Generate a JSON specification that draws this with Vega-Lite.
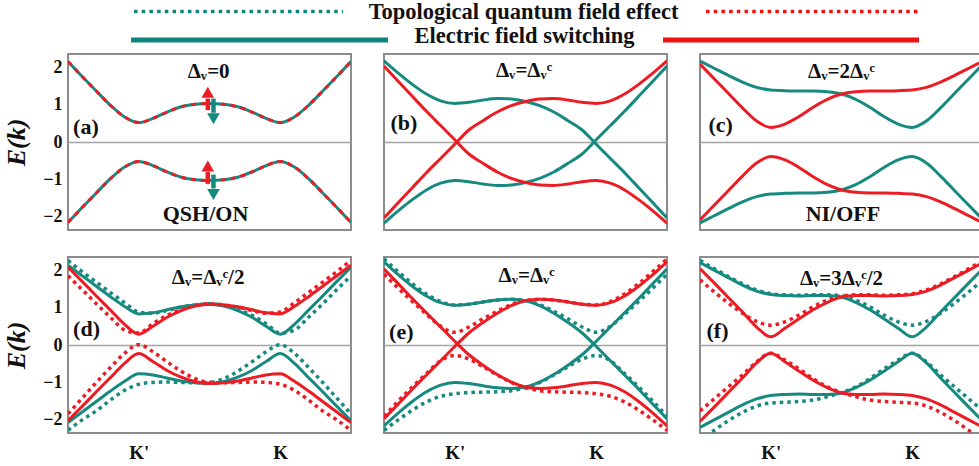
{
 "$schema": "https://vega.github.io/schema/vega-lite/v6.json",
 "padding": {"left": 3, "top": 0, "right": 0, "bottom": 0},
 "background": "white",
 "spacing": 3,
 "config": {"view": {"stroke": "#8c8c8c", "strokeWidth": 2}, "font": "Liberation Serif"},
 "resolve": {"scale": {"x": "independent", "y": "independent", "color": "independent"}},
 "vconcat": [
  {
   "width": 912, "height": 50,
   "view": {"stroke": null},
   "data": {"values": [
    {"method": "TQFE", "spin": "down", "lx": 7.24, "lx2": 30.15, "ly": 2.3},
    {"method": "TQFE", "spin": "up", "lx": 69.96, "lx2": 93.31, "ly": 2.3},
    {"method": "EFS", "spin": "down", "lx": 6.91, "lx2": 35.09, "ly": 8.0},
    {"method": "EFS", "spin": "up", "lx": 65.24, "lx2": 93.31, "ly": 8.0},
    {"label": "Topological quantum field effect", "lx": 49.95, "ly": 3.7},
    {"label": "Electric field switching", "lx": 50.05, "ly": 8.5}
   ]},
   "encoding": {
    "x": {"field": "lx", "type": "quantitative", "scale": {"domain": [0, 100], "nice": false}, "axis": null},
    "y": {"field": "ly", "type": "quantitative", "scale": {"domain": [0, 10], "nice": false, "reverse": true}, "axis": null}
   },
   "layer": [
    {"transform": [{"filter": "datum.method === 'TQFE'"}],
     "mark": {"type": "rule", "strokeWidth": 3.5, "strokeDash": [3.5, 4.2]},
     "encoding": {"x2": {"field": "lx2"}, "color": {"field": "spin", "type": "nominal", "scale": {"domain": ["up", "down"], "range": ["#ee1111", "#0f857d"]}, "legend": null}}},
    {"transform": [{"filter": "datum.method === 'EFS'"}],
     "mark": {"type": "rule", "strokeWidth": 5},
     "encoding": {"x2": {"field": "lx2"}, "color": {"field": "spin", "type": "nominal", "scale": {"domain": ["up", "down"], "range": ["#ee1111", "#0f857d"]}, "legend": null}}},
    {"transform": [{"filter": "isValid(datum.label)"}],
     "mark": {"type": "text", "font": "Liberation Serif", "fontWeight": "bold", "fontSize": 22.5, "color": "#111111", "align": "center", "baseline": "alphabetic"},
     "encoding": {"text": {"field": "label"}}}
   ]
  },
  {
   "data": {"values": [
    {"r":1,"c":1,"x":0,"tc":2.15,"tv":-2.15,"rca":2.15,"rva":-2.15},
    {"r":1,"c":1,"x":0.05,"tc":1.75,"tv":-1.75,"rca":1.75,"rva":-1.75},
    {"r":1,"c":1,"x":0.1,"tc":1.36,"tv":-1.36,"rca":1.36,"rva":-1.36},
    {"r":1,"c":1,"x":0.15,"tc":0.98,"tv":-0.98,"rca":0.98,"rva":-0.98},
    {"r":1,"c":1,"x":0.2,"tc":0.67,"tv":-0.67,"rca":0.67,"rva":-0.67},
    {"r":1,"c":1,"x":0.25,"tc":0.52,"tv":-0.52,"rca":0.52,"rva":-0.52},
    {"r":1,"c":1,"x":0.3,"tc":0.63,"tv":-0.63,"rca":0.63,"rva":-0.63},
    {"r":1,"c":1,"x":0.35,"tc":0.8,"tv":-0.8,"rca":0.8,"rva":-0.8},
    {"r":1,"c":1,"x":0.4,"tc":0.94,"tv":-0.94,"rca":0.94,"rva":-0.94},
    {"r":1,"c":1,"x":0.45,"tc":1.01,"tv":-1.01,"rca":1.01,"rva":-1.01},
    {"r":1,"c":1,"x":0.5,"tc":1.03,"tv":-1.03,"rca":1.03,"rva":-1.03},
    {"r":1,"c":1,"x":0.55,"tc":1.01,"tv":-1.01,"rca":1.01,"rva":-1.01},
    {"r":1,"c":1,"x":0.6,"tc":0.94,"tv":-0.94,"rca":0.94,"rva":-0.94},
    {"r":1,"c":1,"x":0.65,"tc":0.8,"tv":-0.8,"rca":0.8,"rva":-0.8},
    {"r":1,"c":1,"x":0.7,"tc":0.63,"tv":-0.63,"rca":0.63,"rva":-0.63},
    {"r":1,"c":1,"x":0.75,"tc":0.52,"tv":-0.52,"rca":0.52,"rva":-0.52},
    {"r":1,"c":1,"x":0.8,"tc":0.67,"tv":-0.67,"rca":0.67,"rva":-0.67},
    {"r":1,"c":1,"x":0.85,"tc":0.98,"tv":-0.98,"rca":0.98,"rva":-0.98},
    {"r":1,"c":1,"x":0.9,"tc":1.36,"tv":-1.36,"rca":1.36,"rva":-1.36},
    {"r":1,"c":1,"x":0.95,"tc":1.75,"tv":-1.75,"rca":1.75,"rva":-1.75},
    {"r":1,"c":1,"x":1,"tc":2.15,"tv":-2.15,"rca":2.15,"rva":-2.15},

    {"r":1,"c":2,"x":0,"tc":2.17,"tv":-2.17,"rc":-2.03,"rv":2.03},
    {"r":1,"c":2,"x":0.05,"tc":1.84,"tv":-1.84,"rc":-1.62,"rv":1.62},
    {"r":1,"c":2,"x":0.1,"tc":1.54,"tv":-1.54,"rc":-1.22,"rv":1.22},
    {"r":1,"c":2,"x":0.15,"tc":1.28,"tv":-1.28,"rc":-0.82,"rv":0.82},
    {"r":1,"c":2,"x":0.2,"tc":1.1,"tv":-1.1,"rc":-0.44,"rv":0.44},
    {"r":1,"c":2,"x":0.25,"tc":1.03,"tv":-1.03,"rc":-0.06,"rv":0.06},
    {"r":1,"c":2,"x":0.3,"tc":1.06,"tv":-1.06,"rc":0.32,"rv":-0.32},
    {"r":1,"c":2,"x":0.35,"tc":1.12,"tv":-1.12,"rc":0.57,"rv":-0.57},
    {"r":1,"c":2,"x":0.4,"tc":1.16,"tv":-1.16,"rc":0.8,"rv":-0.8},
    {"r":1,"c":2,"x":0.45,"tc":1.15,"tv":-1.15,"rc":0.97,"rv":-0.97},
    {"r":1,"c":2,"x":0.5,"tc":1.08,"tv":-1.08,"rc":1.08,"rv":-1.08},
    {"r":1,"c":2,"x":0.55,"tc":0.97,"tv":-0.97,"rc":1.15,"rv":-1.15},
    {"r":1,"c":2,"x":0.6,"tc":0.8,"tv":-0.8,"rc":1.16,"rv":-1.16},
    {"r":1,"c":2,"x":0.65,"tc":0.57,"tv":-0.57,"rc":1.12,"rv":-1.12},
    {"r":1,"c":2,"x":0.7,"tc":0.32,"tv":-0.32,"rc":1.06,"rv":-1.06},
    {"r":1,"c":2,"x":0.75,"tc":-0.06,"tv":0.06,"rc":1.03,"rv":-1.03},
    {"r":1,"c":2,"x":0.8,"tc":-0.44,"tv":0.44,"rc":1.1,"rv":-1.1},
    {"r":1,"c":2,"x":0.85,"tc":-0.82,"tv":0.82,"rc":1.28,"rv":-1.28},
    {"r":1,"c":2,"x":0.9,"tc":-1.22,"tv":1.22,"rc":1.54,"rv":-1.54},
    {"r":1,"c":2,"x":0.95,"tc":-1.62,"tv":1.62,"rc":1.84,"rv":-1.84},
    {"r":1,"c":2,"x":1,"tc":-2.03,"tv":2.03,"rc":2.17,"rv":-2.17},

    {"r":1,"c":3,"x":0,"tc":2.16,"tv":-2.16,"rc":2.08,"rv":-2.08},
    {"r":1,"c":3,"x":0.05,"tc":1.97,"tv":-1.97,"rc":1.69,"rv":-1.69},
    {"r":1,"c":3,"x":0.1,"tc":1.78,"tv":-1.78,"rc":1.3,"rv":-1.3},
    {"r":1,"c":3,"x":0.15,"tc":1.6,"tv":-1.6,"rc":0.91,"rv":-0.91},
    {"r":1,"c":3,"x":0.2,"tc":1.46,"tv":-1.46,"rc":0.56,"rv":-0.56},
    {"r":1,"c":3,"x":0.25,"tc":1.39,"tv":-1.39,"rc":0.39,"rv":-0.39},
    {"r":1,"c":3,"x":0.3,"tc":1.37,"tv":-1.37,"rc":0.48,"rv":-0.48},
    {"r":1,"c":3,"x":0.35,"tc":1.36,"tv":-1.36,"rc":0.68,"rv":-0.68},
    {"r":1,"c":3,"x":0.4,"tc":1.36,"tv":-1.36,"rc":0.93,"rv":-0.93},
    {"r":1,"c":3,"x":0.45,"tc":1.34,"tv":-1.34,"rc":1.14,"rv":-1.14},
    {"r":1,"c":3,"x":0.5,"tc":1.28,"tv":-1.28,"rc":1.28,"rv":-1.28},
    {"r":1,"c":3,"x":0.55,"tc":1.14,"tv":-1.14,"rc":1.34,"rv":-1.34},
    {"r":1,"c":3,"x":0.6,"tc":0.93,"tv":-0.93,"rc":1.36,"rv":-1.36},
    {"r":1,"c":3,"x":0.65,"tc":0.68,"tv":-0.68,"rc":1.36,"rv":-1.36},
    {"r":1,"c":3,"x":0.7,"tc":0.48,"tv":-0.48,"rc":1.37,"rv":-1.37},
    {"r":1,"c":3,"x":0.75,"tc":0.39,"tv":-0.39,"rc":1.39,"rv":-1.39},
    {"r":1,"c":3,"x":0.8,"tc":0.56,"tv":-0.56,"rc":1.46,"rv":-1.46},
    {"r":1,"c":3,"x":0.85,"tc":0.91,"tv":-0.91,"rc":1.6,"rv":-1.6},
    {"r":1,"c":3,"x":0.9,"tc":1.3,"tv":-1.3,"rc":1.78,"rv":-1.78},
    {"r":1,"c":3,"x":0.95,"tc":1.69,"tv":-1.69,"rc":1.97,"rv":-1.97},
    {"r":1,"c":3,"x":1,"tc":2.08,"tv":-2.08,"rc":2.16,"rv":-2.16},

    {"r":2,"c":1,"x":0,"tc":2.13,"tv":-2.07,"rc":2.08,"rv":-2.02,"tcd":2.26,"tvd":-2.28,"rcd":1.85,"rvd":-1.84},
    {"r":2,"c":1,"x":0.05,"tc":1.85,"tv":-1.79,"rc":1.7,"rv":-1.64,"tcd":1.96,"tvd":-2.0,"rcd":1.48,"rvd":-1.42},
    {"r":2,"c":1,"x":0.1,"tc":1.57,"tv":-1.51,"rc":1.31,"rv":-1.25,"tcd":1.68,"tvd":-1.76,"rcd":1.1,"rvd":-1.0},
    {"r":2,"c":1,"x":0.15,"tc":1.29,"tv":-1.23,"rc":0.93,"rv":-0.87,"tcd":1.4,"tvd":-1.47,"rcd":0.74,"rvd":-0.6},
    {"r":2,"c":1,"x":0.2,"tc":1.03,"tv":-0.97,"rc":0.55,"rv":-0.49,"tcd":1.13,"tvd":-1.21,"rcd":0.4,"rvd":-0.22},
    {"r":2,"c":1,"x":0.25,"tc":0.83,"tv":-0.77,"rc":0.29,"rv":-0.23,"tcd":0.88,"tvd":-1.05,"rcd":0.32,"rvd":0.01},
    {"r":2,"c":1,"x":0.3,"tc":0.86,"tv":-0.8,"rc":0.5,"rv":-0.44,"tcd":0.85,"tvd":-1.0,"rcd":0.57,"rvd":-0.18},
    {"r":2,"c":1,"x":0.35,"tc":0.94,"tv":-0.88,"rc":0.74,"rv":-0.68,"tcd":0.92,"tvd":-0.99,"rcd":0.79,"rvd":-0.45},
    {"r":2,"c":1,"x":0.4,"tc":1.02,"tv":-0.96,"rc":0.92,"rv":-0.86,"tcd":1.01,"tvd":-1.0,"rcd":0.95,"rvd":-0.7},
    {"r":2,"c":1,"x":0.45,"tc":1.07,"tv":-1.01,"rc":1.04,"rv":-0.98,"tcd":1.07,"tvd":-1.01,"rcd":1.06,"rvd":-0.9},
    {"r":2,"c":1,"x":0.5,"tc":1.09,"tv":-1.03,"rc":1.09,"rv":-1.03,"tcd":1.1,"tvd":-1.0,"rcd":1.1,"rvd":-1.0},
    {"r":2,"c":1,"x":0.55,"tc":1.04,"tv":-0.98,"rc":1.07,"rv":-1.01,"tcd":1.06,"tvd":-0.9,"rcd":1.07,"rvd":-1.01},
    {"r":2,"c":1,"x":0.6,"tc":0.92,"tv":-0.86,"rc":1.02,"rv":-0.96,"tcd":0.95,"tvd":-0.7,"rcd":1.01,"rvd":-1.0},
    {"r":2,"c":1,"x":0.65,"tc":0.74,"tv":-0.68,"rc":0.94,"rv":-0.88,"tcd":0.79,"tvd":-0.45,"rcd":0.92,"rvd":-0.99},
    {"r":2,"c":1,"x":0.7,"tc":0.5,"tv":-0.44,"rc":0.86,"rv":-0.8,"tcd":0.57,"tvd":-0.18,"rcd":0.85,"rvd":-1.0},
    {"r":2,"c":1,"x":0.75,"tc":0.29,"tv":-0.23,"rc":0.83,"rv":-0.77,"tcd":0.32,"tvd":0.01,"rcd":0.88,"rvd":-1.05},
    {"r":2,"c":1,"x":0.8,"tc":0.55,"tv":-0.49,"rc":1.03,"rv":-0.97,"tcd":0.4,"tvd":-0.22,"rcd":1.13,"rvd":-1.21},
    {"r":2,"c":1,"x":0.85,"tc":0.93,"tv":-0.87,"rc":1.29,"rv":-1.23,"tcd":0.74,"tvd":-0.6,"rcd":1.4,"rvd":-1.47},
    {"r":2,"c":1,"x":0.9,"tc":1.31,"tv":-1.25,"rc":1.57,"rv":-1.51,"tcd":1.1,"tvd":-1.0,"rcd":1.68,"rvd":-1.76},
    {"r":2,"c":1,"x":0.95,"tc":1.7,"tv":-1.64,"rc":1.85,"rv":-1.79,"tcd":1.48,"tvd":-1.42,"rcd":1.96,"rvd":-2.0},
    {"r":2,"c":1,"x":1,"tc":2.08,"tv":-2.02,"rc":2.13,"rv":-2.07,"tcd":1.85,"tvd":-1.84,"rcd":2.26,"rvd":-2.28},

    {"r":2,"c":2,"x":0,"tc":2.22,"tv":-2.16,"rc":-1.97,"rv":2.03,"tcd":2.3,"tvd":-2.28,"rcd":1.89,"rvd":-1.9},
    {"r":2,"c":2,"x":0.05,"tc":1.88,"tv":-1.82,"rc":-1.58,"rv":1.64,"tcd":1.96,"tvd":-2.0,"rcd":1.52,"rvd":-1.5},
    {"r":2,"c":2,"x":0.1,"tc":1.57,"tv":-1.51,"rc":-1.18,"rv":1.24,"tcd":1.64,"tvd":-1.74,"rcd":1.16,"rvd":-1.12},
    {"r":2,"c":2,"x":0.15,"tc":1.31,"tv":-1.25,"rc":-0.8,"rv":0.86,"tcd":1.36,"tvd":-1.52,"rcd":0.82,"rvd":-0.76},
    {"r":2,"c":2,"x":0.2,"tc":1.13,"tv":-1.07,"rc":-0.42,"rv":0.48,"tcd":1.16,"tvd":-1.37,"rcd":0.5,"rvd":-0.42},
    {"r":2,"c":2,"x":0.25,"tc":1.06,"tv":-1.0,"rc":-0.04,"rv":0.1,"tcd":1.07,"tvd":-1.3,"rcd":0.34,"rvd":-0.28},
    {"r":2,"c":2,"x":0.3,"tc":1.09,"tv":-1.03,"rc":0.32,"rv":-0.26,"tcd":1.09,"tvd":-1.27,"rcd":0.48,"rvd":-0.38},
    {"r":2,"c":2,"x":0.35,"tc":1.15,"tv":-1.09,"rc":0.6,"rv":-0.54,"tcd":1.15,"tvd":-1.26,"rcd":0.7,"rvd":-0.58},
    {"r":2,"c":2,"x":0.4,"tc":1.2,"tv":-1.14,"rc":0.85,"rv":-0.79,"tcd":1.2,"tvd":-1.25,"rcd":0.9,"rvd":-0.8},
    {"r":2,"c":2,"x":0.45,"tc":1.22,"tv":-1.16,"rc":1.05,"rv":-0.99,"tcd":1.22,"tvd":-1.22,"rcd":1.08,"rvd":-1.0},
    {"r":2,"c":2,"x":0.5,"tc":1.18,"tv":-1.12,"rc":1.18,"rv":-1.12,"tcd":1.19,"tvd":-1.14,"rcd":1.19,"rvd":-1.14},
    {"r":2,"c":2,"x":0.55,"tc":1.05,"tv":-0.99,"rc":1.22,"rv":-1.16,"tcd":1.08,"tvd":-1.0,"rcd":1.22,"rvd":-1.22},
    {"r":2,"c":2,"x":0.6,"tc":0.85,"tv":-0.79,"rc":1.2,"rv":-1.14,"tcd":0.9,"tvd":-0.8,"rcd":1.2,"rvd":-1.25},
    {"r":2,"c":2,"x":0.65,"tc":0.6,"tv":-0.54,"rc":1.15,"rv":-1.09,"tcd":0.7,"tvd":-0.58,"rcd":1.15,"rvd":-1.26},
    {"r":2,"c":2,"x":0.7,"tc":0.32,"tv":-0.26,"rc":1.09,"rv":-1.03,"tcd":0.48,"tvd":-0.38,"rcd":1.09,"rvd":-1.27},
    {"r":2,"c":2,"x":0.75,"tc":-0.04,"tv":0.1,"rc":1.06,"rv":-1.0,"tcd":0.34,"tvd":-0.28,"rcd":1.07,"rvd":-1.3},
    {"r":2,"c":2,"x":0.8,"tc":-0.42,"tv":0.48,"rc":1.13,"rv":-1.07,"tcd":0.5,"tvd":-0.42,"rcd":1.16,"rvd":-1.37},
    {"r":2,"c":2,"x":0.85,"tc":-0.8,"tv":0.86,"rc":1.31,"rv":-1.25,"tcd":0.82,"tvd":-0.76,"rcd":1.36,"rvd":-1.52},
    {"r":2,"c":2,"x":0.9,"tc":-1.18,"tv":1.24,"rc":1.57,"rv":-1.51,"tcd":1.16,"tvd":-1.12,"rcd":1.64,"rvd":-1.74},
    {"r":2,"c":2,"x":0.95,"tc":-1.58,"tv":1.64,"rc":1.88,"rv":-1.82,"tcd":1.52,"tvd":-1.5,"rcd":1.96,"rvd":-2.0},
    {"r":2,"c":2,"x":1,"tc":-1.97,"tv":2.03,"rc":2.22,"rv":-2.16,"tcd":1.89,"tvd":-1.9,"rcd":2.3,"rvd":-2.28},

    {"r":2,"c":3,"x":0,"tc":2.2,"tv":-2.2,"rc":2.04,"rv":-2.04,"tcd":2.26,"tvd":-2.55,"rcd":1.74,"rvd":-1.76},
    {"r":2,"c":3,"x":0.05,"tc":2.0,"tv":-2.0,"rc":1.66,"rv":-1.66,"tcd":2.04,"tvd":-2.28,"rcd":1.42,"rvd":-1.44},
    {"r":2,"c":3,"x":0.1,"tc":1.8,"tv":-1.8,"rc":1.27,"rv":-1.27,"tcd":1.83,"tvd":-2.02,"rcd":1.12,"rvd":-1.12},
    {"r":2,"c":3,"x":0.15,"tc":1.6,"tv":-1.6,"rc":0.88,"rv":-0.88,"tcd":1.63,"tvd":-1.8,"rcd":0.85,"rvd":-0.8},
    {"r":2,"c":3,"x":0.2,"tc":1.44,"tv":-1.44,"rc":0.48,"rv":-0.48,"tcd":1.47,"tvd":-1.63,"rcd":0.63,"rvd":-0.45},
    {"r":2,"c":3,"x":0.25,"tc":1.35,"tv":-1.35,"rc":0.22,"rv":-0.22,"tcd":1.37,"tvd":-1.55,"rcd":0.53,"rvd":-0.22},
    {"r":2,"c":3,"x":0.3,"tc":1.32,"tv":-1.32,"rc":0.45,"rv":-0.45,"tcd":1.34,"tvd":-1.53,"rcd":0.62,"rvd":-0.4},
    {"r":2,"c":3,"x":0.35,"tc":1.31,"tv":-1.31,"rc":0.7,"rv":-0.7,"tcd":1.33,"tvd":-1.51,"rcd":0.8,"rvd":-0.64},
    {"r":2,"c":3,"x":0.4,"tc":1.32,"tv":-1.32,"rc":0.94,"rv":-0.94,"tcd":1.34,"tvd":-1.47,"rcd":1.02,"rvd":-0.9},
    {"r":2,"c":3,"x":0.45,"tc":1.32,"tv":-1.32,"rc":1.14,"rv":-1.14,"tcd":1.34,"tvd":-1.38,"rcd":1.2,"rvd":-1.12},
    {"r":2,"c":3,"x":0.5,"tc":1.28,"tv":-1.28,"rc":1.28,"rv":-1.28,"tcd":1.31,"tvd":-1.27,"rcd":1.31,"rvd":-1.27},
    {"r":2,"c":3,"x":0.55,"tc":1.14,"tv":-1.14,"rc":1.32,"rv":-1.32,"tcd":1.2,"tvd":-1.12,"rcd":1.34,"rvd":-1.38},
    {"r":2,"c":3,"x":0.6,"tc":0.94,"tv":-0.94,"rc":1.32,"rv":-1.32,"tcd":1.02,"tvd":-0.9,"rcd":1.34,"rvd":-1.47},
    {"r":2,"c":3,"x":0.65,"tc":0.7,"tv":-0.7,"rc":1.31,"rv":-1.31,"tcd":0.8,"tvd":-0.64,"rcd":1.33,"rvd":-1.51},
    {"r":2,"c":3,"x":0.7,"tc":0.45,"tv":-0.45,"rc":1.32,"rv":-1.32,"tcd":0.62,"tvd":-0.4,"rcd":1.34,"rvd":-1.53},
    {"r":2,"c":3,"x":0.75,"tc":0.22,"tv":-0.22,"rc":1.35,"rv":-1.35,"tcd":0.53,"tvd":-0.22,"rcd":1.37,"rvd":-1.55},
    {"r":2,"c":3,"x":0.8,"tc":0.48,"tv":-0.48,"rc":1.44,"rv":-1.44,"tcd":0.63,"tvd":-0.45,"rcd":1.47,"rvd":-1.63},
    {"r":2,"c":3,"x":0.85,"tc":0.88,"tv":-0.88,"rc":1.6,"rv":-1.6,"tcd":0.85,"tvd":-0.8,"rcd":1.63,"rvd":-1.8},
    {"r":2,"c":3,"x":0.9,"tc":1.27,"tv":-1.27,"rc":1.8,"rv":-1.8,"tcd":1.12,"tvd":-1.12,"rcd":1.83,"rvd":-2.02},
    {"r":2,"c":3,"x":0.95,"tc":1.66,"tv":-1.66,"rc":2.0,"rv":-2.0,"tcd":1.42,"tvd":-1.44,"rcd":2.04,"rvd":-2.28},
    {"r":2,"c":3,"x":1,"tc":2.04,"tv":-2.04,"rc":2.2,"rv":-2.2,"tcd":1.74,"tvd":-1.76,"rcd":2.26,"rvd":-2.55},

    {"r":1,"c":1,"k":"a","x":0.494,"value":0.85,"v2":1.16,"dir":"up"},
    {"r":1,"c":1,"k":"a","x":0.514,"value":1.16,"v2":0.78,"dir":"down"},
    {"r":1,"c":1,"k":"a","x":0.494,"value":-1.12,"v2":-0.8,"dir":"up"},
    {"r":1,"c":1,"k":"a","x":0.514,"value":-0.87,"v2":-1.24,"dir":"down"},
    {"r":1,"c":1,"k":"h","x":0.494,"value":1.33,"dir":"up"},
    {"r":1,"c":1,"k":"h","x":0.514,"value":0.62,"dir":"down"},
    {"r":1,"c":1,"k":"h","x":0.494,"value":-0.64,"dir":"up"},
    {"r":1,"c":1,"k":"h","x":0.514,"value":-1.4,"dir":"down"},

    {"r":1,"c":1,"k":"t","x":0.497,"value":1.86,"label":"Δᵥ=0"},
    {"r":1,"c":2,"k":"t","x":0.495,"value":1.9,"label":"Δᵥ=Δᵥᶜ"},
    {"r":1,"c":3,"k":"t","x":0.5,"value":1.87,"label":"Δᵥ=2Δᵥᶜ"},
    {"r":2,"c":1,"k":"t","x":0.495,"value":1.8,"label":"Δᵥ=Δᵥᶜ/2"},
    {"r":2,"c":2,"k":"t","x":0.504,"value":1.84,"label":"Δᵥ=Δᵥᶜ"},
    {"r":2,"c":3,"k":"t","x":0.5,"value":1.77,"label":"Δᵥ=3Δᵥᶜ/2"},
    {"r":1,"c":1,"k":"g","x":0.018,"value":0.4,"label":"(a)"},
    {"r":1,"c":2,"k":"g","x":0.023,"value":0.52,"label":"(b)"},
    {"r":1,"c":3,"k":"g","x":0.03,"value":0.45,"label":"(c)"},
    {"r":2,"c":1,"k":"g","x":0.018,"value":0.44,"label":"(d)"},
    {"r":2,"c":2,"k":"g","x":0.018,"value":0.34,"label":"(e)"},
    {"r":2,"c":3,"k":"g","x":0.023,"value":0.38,"label":"(f)"},
    {"r":1,"c":1,"k":"s","x":0.486,"value":-1.92,"label":"QSH/ON"},
    {"r":1,"c":3,"k":"s","x":0.505,"value":-1.91,"label":"NI/OFF"}
   ]},
   "facet": {
    "row": {"field": "r", "type": "ordinal", "title": null, "header": {"labels": false}},
    "column": {"field": "c", "type": "ordinal", "title": null, "header": {"labels": false}}
   },
   "spacing": {"row": 25, "column": 31},
   "spec": {
    "width": 283, "height": 176,
    "encoding": {
     "x": {"field": "x", "type": "quantitative", "scale": {"domain": [0, 1], "nice": false, "zero": false},
      "axis": {"values": [0.25, 0.75], "labelExpr": "datum.value < 0.5 ? \"K'\" : \"K\"", "ticks": false, "domain": false, "grid": false,
       "labelFont": "Liberation Serif", "labelFontWeight": "bold", "labelFontSize": 19, "labelColor": "#111111", "labelPadding": 9, "labelFlush": false, "title": null}},
     "y": {"field": "value", "type": "quantitative", "scale": {"domain": [-2.35, 2.35], "nice": false, "zero": false}, "title": "E(k)",
      "axis": {"values": [-2, -1, 0, 1, 2], "ticks": false, "domain": false,
       "labelFont": "Liberation Serif", "labelFontWeight": "bold", "labelFontSize": 18, "labelColor": "#111111", "labelPadding": 5,
       "titleFont": "Liberation Serif", "titleFontStyle": "italic", "titleFontWeight": "bold", "titleFontSize": 26, "titleColor": "#111111", "titlePadding": 13,
       "grid": true, "gridColor": "#a3a3a3", "gridWidth": 1.5,
       "gridOpacity": {"condition": {"test": "datum.value === 0", "value": 1}, "value": 0}}}
    },
    "layer": [
     {"transform": [{"fold": ["tcd", "tvd", "rcd", "rvd"], "as": ["key", "value"]}, {"filter": "isValid(datum.value)"}],
      "mark": {"type": "line", "interpolate": "monotone", "strokeWidth": 3.5, "strokeDash": [3.5, 4], "clip": true},
      "encoding": {"color": {"field": "key", "type": "nominal", "legend": null,
       "scale": {"domain": ["tc","tv","rc","rv","tcd","tvd","rcd","rvd","rca","rva","up","down"], "range": ["#168a80","#168a80","#ec1c24","#ec1c24","#168a80","#168a80","#ec1c24","#ec1c24","#ec1c24","#ec1c24","#ec1c24","#168a80"]}}}},
     {"transform": [{"fold": ["tc", "tv", "rc", "rv"], "as": ["key", "value"]}, {"filter": "isValid(datum.value)"}],
      "mark": {"type": "line", "interpolate": "monotone", "strokeWidth": 3, "clip": true},
      "encoding": {"color": {"field": "key", "type": "nominal", "legend": null,
       "scale": {"domain": ["tc","tv","rc","rv","tcd","tvd","rcd","rvd","rca","rva","up","down"], "range": ["#168a80","#168a80","#ec1c24","#ec1c24","#168a80","#168a80","#ec1c24","#ec1c24","#ec1c24","#ec1c24","#ec1c24","#168a80"]}}}},
     {"transform": [{"fold": ["rca", "rva"], "as": ["key", "value"]}, {"filter": "isValid(datum.value)"}],
      "mark": {"type": "line", "interpolate": "monotone", "strokeWidth": 3, "strokeDash": [5, 5], "clip": true},
      "encoding": {"color": {"field": "key", "type": "nominal", "legend": null,
       "scale": {"domain": ["tc","tv","rc","rv","tcd","tvd","rcd","rvd","rca","rva","up","down"], "range": ["#168a80","#168a80","#ec1c24","#ec1c24","#168a80","#168a80","#ec1c24","#ec1c24","#ec1c24","#ec1c24","#ec1c24","#168a80"]}}}},
     {"transform": [{"filter": "datum.k === 'a'"}],
      "mark": {"type": "rule", "strokeWidth": 4.5},
      "encoding": {"y2": {"field": "v2"}, "color": {"field": "dir", "type": "nominal", "legend": null,
       "scale": {"domain": ["tc","tv","rc","rv","tcd","tvd","rcd","rvd","rca","rva","up","down"], "range": ["#168a80","#168a80","#ec1c24","#ec1c24","#168a80","#168a80","#ec1c24","#ec1c24","#ec1c24","#ec1c24","#ec1c24","#168a80"]}}}},
     {"transform": [{"filter": "datum.k === 'h'"}],
      "mark": {"type": "point", "filled": true, "size": 160, "opacity": 1},
      "encoding": {"shape": {"field": "dir", "type": "nominal", "legend": null, "scale": {"domain": ["up", "down"], "range": ["triangle-up", "triangle-down"]}},
       "color": {"field": "dir", "type": "nominal", "legend": null,
       "scale": {"domain": ["tc","tv","rc","rv","tcd","tvd","rcd","rvd","rca","rva","up","down"], "range": ["#168a80","#168a80","#ec1c24","#ec1c24","#168a80","#168a80","#ec1c24","#ec1c24","#ec1c24","#ec1c24","#ec1c24","#168a80"]}}}},
     {"transform": [{"filter": "datum.k === 't'"}],
      "mark": {"type": "text", "font": "Liberation Serif", "fontWeight": "bold", "fontSize": 21, "color": "#111111", "align": "center", "baseline": "middle"},
      "encoding": {"text": {"field": "label"}}},
     {"transform": [{"filter": "datum.k === 'g'"}],
      "mark": {"type": "text", "font": "Liberation Serif", "fontWeight": "bold", "fontSize": 22, "color": "#111111", "align": "left", "baseline": "middle"},
      "encoding": {"text": {"field": "label"}}},
     {"transform": [{"filter": "datum.k === 's'"}],
      "mark": {"type": "text", "font": "Liberation Serif", "fontWeight": "bold", "fontSize": 22, "color": "#111111", "align": "center", "baseline": "middle"},
      "encoding": {"text": {"field": "label"}}}
    ]
   }
  }
 ]
}
